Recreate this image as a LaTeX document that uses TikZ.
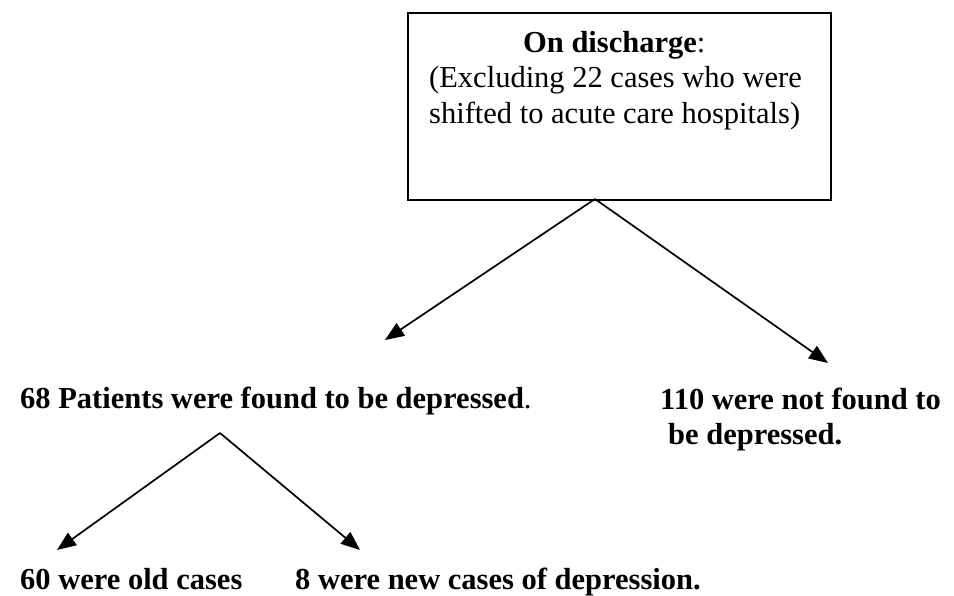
\documentclass[tikz,border=0pt]{standalone}
\usepackage{fontspec}
\setmainfont{Liberation Serif}
\usetikzlibrary{arrows.meta}
\begin{document}
\begin{tikzpicture}[x=1pt,y=-1pt,
  txt/.style={inner sep=0pt, anchor=base west, font=\fontsize{30.5}{35.5}\selectfont},
  arr/.style={line width=1.7pt, -{Triangle[length=19pt,width=15pt]}},
  boxstyle/.style={draw, line width=1.8pt, anchor=north west, inner sep=0pt,
    minimum width=423pt, minimum height=187pt}]
\useasboundingbox (0,0) rectangle (954,596);
\fill[white] (0,0) rectangle (954,596);
\node[boxstyle] (box) at (407,12) {};
\node[txt] (title) at (523,53) {\textbf{On discharge}:};
\node[txt] (l1) at (429,88) {(Excluding 22 cases who were};
\node[txt] (l2) at (429,124) {shifted to acute care hospitals)};
\coordinate (a1) at (595,199);
\coordinate (tipL) at (385,340);
\coordinate (tipR) at (828,363);
\draw[arr] (a1) -- (tipL);
\draw[arr] (a1) -- (tipR);
\node[txt] (dep) at (20,408) {\textbf{68 Patients were found to be depressed}.};
\node[txt] (nd1) at (660,409) {\textbf{110 were not found to}};
\node[txt] (nd2) at (668,444) {\textbf{be depressed.}};
\coordinate (a2) at (220,433);
\coordinate (tipLL) at (57,550);
\coordinate (tipLR) at (360,550);
\draw[arr] (a2) -- (tipLL);
\draw[arr] (a2) -- (tipLR);
\node[txt] (old) at (20,589) {\textbf{60 were old cases}};
\node[txt] (new) at (295,589) {\textbf{8 were new cases of depression.}};
\end{tikzpicture}
\end{document}
